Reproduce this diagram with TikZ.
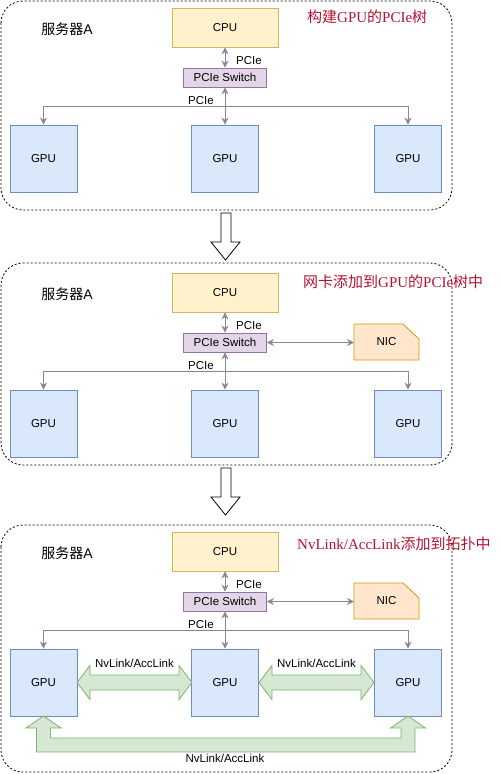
\documentclass[tikz,border=0pt]{standalone}
\usepackage{fontspec}
\setmainfont{Liberation Sans}
\newfontfamily\cjk{Noto Sans CJK SC}
\newfontfamily\serifL{Liberation Serif}
\usetikzlibrary{arrows.meta}
\definecolor{gpuFill}{HTML}{DAE8FC}
\definecolor{gpuLine}{HTML}{6C8EBF}
\definecolor{cpuFill}{HTML}{FFF2CC}
\definecolor{cpuLine}{HTML}{D6B656}
\definecolor{swFill}{HTML}{E1D5E7}
\definecolor{swLine}{HTML}{9673A6}
\definecolor{nicFill}{HTML}{FFE6CC}
\definecolor{nicLine}{HTML}{D79B00}
\definecolor{nvFill}{HTML}{D5E8D4}
\definecolor{nvLine}{HTML}{82B366}
\definecolor{conn}{HTML}{8F829C}
\definecolor{titleRed}{HTML}{B41432}
\tikzset{
  lbl/.style={font=\fontsize{11.5}{13}\selectfont, inner sep=0pt},
  gpubox/.style={draw=gpuLine, fill=gpuFill, line width=0.8pt, minimum width=67pt, minimum height=67pt, inner sep=0pt, lbl},
  cpubox/.style={draw=cpuLine, fill=cpuFill, line width=0.8pt, minimum width=106pt, minimum height=39pt, inner sep=0pt, lbl},
  swbox/.style={draw=swLine, fill=swFill, line width=0.8pt, minimum width=83pt, minimum height=19pt, inner sep=0pt, lbl},
  conn/.style={draw=conn, line width=0.9pt, -{Stealth[length=7pt,width=7pt]}},
  bconn/.style={draw=conn, line width=0.9pt, {Stealth[length=7pt,width=7pt]}-{Stealth[length=7pt,width=7pt]}},
  panel/.style={draw=black, line width=0.8pt, dash pattern=on 2pt off 2pt, rounded corners=22pt},
  hollow/.style={draw=black, fill=white, line width=0.8pt},
  nvarrow/.style={draw=nvLine, fill=nvFill, line width=0.8pt},
  title/.style={text=titleRed, font=\cjk\fontsize{15}{17}\selectfont, inner sep=0pt, anchor=west},
  srv/.style={font=\cjk\fontsize{14}{16}\selectfont, inner sep=0pt}
}
\newcommand\srvpanel[2]{%
\begin{scope}[yshift=-#2pt]
  \node[srv] (#1srv) at (67,29) {服务器\fontspec{Liberation Sans}A};
  \node[cpubox] (#1cpu) at (225,27.5) {CPU};
  \node[swbox] (#1sw) at (225,77.5) {PCIe Switch};
  \node[gpubox] (#1g1) at (43.5,158.5) {GPU};
  \node[gpubox] (#1g2) at (225,158.5) {GPU};
  \node[gpubox] (#1g3) at (408,158.5) {GPU};
  \coordinate (#1junc) at (225,106);
  \draw[bconn] (#1cpu.south) -- (#1sw.north);
  \draw[bconn] (#1sw.south) -- (#1g2.north);
  \draw[conn] (#1junc) -| (#1g1.north);
  \draw[conn] (#1junc) -| (#1g3.north);
  \node[lbl] (#1pcieA) at (249,61) {PCIe};
  \node[lbl] (#1pcieB) at (201,101) {PCIe};
\end{scope}}
\newcommand\nicpart[2]{%
\begin{scope}[yshift=-#2pt]
  \draw[draw=nicLine, fill=nicFill, line width=0.8pt] (354,95) -- (354,59) -- (403,59) -- (419,74) -- (419,95) -- cycle;
  \node[lbl] (#1nic) at (386.5,77) {NIC};
  \coordinate (#1nicw) at (354,77.5);
  \draw[bconn] (#1sw.east) -- (#1nicw);
\end{scope}}
\begin{document}
\begin{tikzpicture}[x=1pt, y=-1pt]
\useasboundingbox (0,0) rectangle (500,774);
\fill[white] (0,0) rectangle (500,774);
% panels
\draw[panel] (1,1) rectangle (452,210);
\draw[panel] (1,263) rectangle (452,465);
\draw[panel] (1,525) rectangle (452,772);
% down arrows
\draw[hollow] (221,213) -- (231,213) -- (231,242) -- (240,242) -- (225.5,260) -- (211,242) -- (221,242) -- cycle;
\draw[hollow] (221,468) -- (231,468) -- (231,497) -- (240,497) -- (225.5,515) -- (211,497) -- (221,497) -- cycle;
% panel contents
\srvpanel{a}{0}
\srvpanel{b}{265}
\srvpanel{c}{524}
\nicpart{b}{265}
\nicpart{c}{524}
% titles
\node[title] (t1) at (307,17) {构建{\serifL GPU}的{\serifL PCIe}树};
\node[title] (t2) at (303,282) {网卡添加到{\serifL GPU}的{\serifL PCIe}树中};
\node[title] (t3) at (297,544) {{\serifL NvLink/AccLink}添加到拓扑中};
% NvLink arrows in panel 3
\begin{scope}[yshift=-524pt]
  \draw[nvarrow] (77,158.5) -- (90,141.5) -- (90,151) -- (179,151) -- (179,141.5) -- (192,158.5) -- (179,175.5) -- (179,166) -- (90,166) -- (90,175.5) -- cycle;
  \draw[nvarrow] (259,158.5) -- (272,141.5) -- (272,151) -- (361,151) -- (361,141.5) -- (374,158.5) -- (361,175.5) -- (361,166) -- (272,166) -- (272,175.5) -- cycle;
  \node[lbl] (nv1) at (134.5,139) {NvLink/AccLink};
  \node[lbl] (nv2) at (316.5,139) {NvLink/AccLink};
  \draw[nvarrow] (43.5,192) -- (61,204) -- (50.5,204) -- (50.5,214) -- (401,214) -- (401,204) -- (390.5,204) -- (408,192) -- (425.5,204) -- (415,204) -- (415,228) -- (36.5,228) -- (36.5,204) -- (26,204) -- cycle;
  \node[lbl] (nv3) at (225,234.5) {NvLink/AccLink};
\end{scope}
\end{tikzpicture}
\end{document}
